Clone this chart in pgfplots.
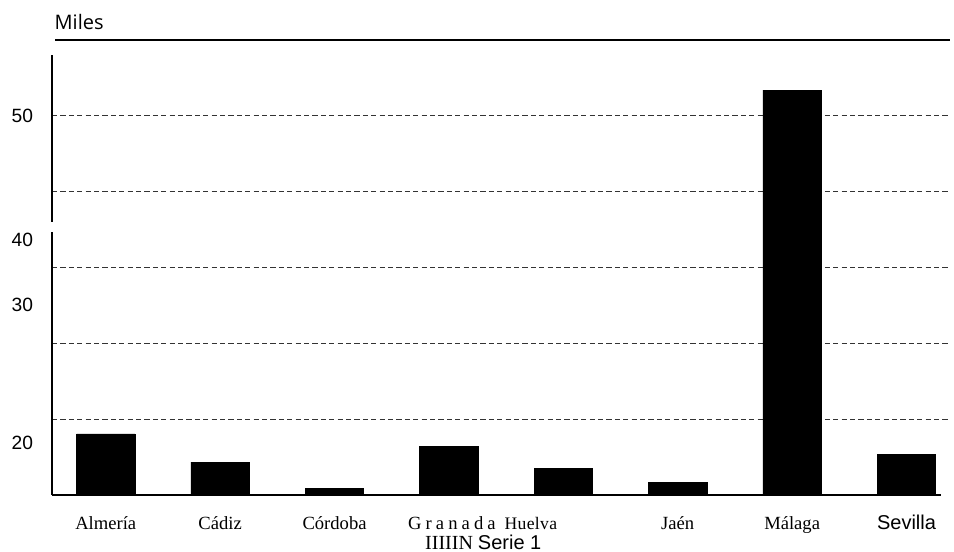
\documentclass[border=0pt]{standalone}
\usepackage{pgfplots}
\pgfplotsset{compat=1.18}
\usepackage{fontspec}
\setmainfont{Liberation Serif}
\newfontfamily\arial{Liberation Sans}
\newfontfamily\milesfont{Open Sans}
\begin{document}
\begin{tikzpicture}
\path[use as bounding box] (-26pt,-28.5pt) rectangle (451pt,247.5pt);
\begin{axis}[
  at={(0,0)}, anchor=south west,
  scale only axis, width=449pt, height=227.5pt,
  xmin=-0.47, xmax=7.38, ymin=0, ymax=60,
  clip=false,
  axis line style={draw=none},
  tick style={draw=none},
  xtick={0,...,7},
  xticklabels={Almería, Cádiz, Córdoba, {\hspace*{3pt}\addfontfeature{LetterSpace=22}Granada}, {\hspace*{-32.5pt}\fontsize{8.8}{9}\selectfont\addfontfeature{LetterSpace=2}Huelva}, Jaén, Málaga, {\arial\fontsize{10}{11}\selectfont Sevilla}},
  xticklabel style={font=\fontsize{9.3}{10}\selectfont, anchor=base, yshift=-17.2pt, inner sep=1pt},
  ytick={10,20,30,40,50},
  yticklabels={},
  ymajorgrids,
  major grid style={black!80, dash pattern=on 2.6pt off 1.6pt, line width=0.45pt},
  extra y ticks={6.86,25.06,33.6,50},
  extra y tick labels={20,30,40,50},
  extra y tick style={grid=none},
  yticklabel style={font=\arial\fontsize{9.6}{10}\selectfont, anchor=east, xshift=-6pt},
]
\addplot[ybar, bar width=0.51, fill=black, draw=black] coordinates {
 (0,8.05) (1,4.35) (2,0.92) (3,6.46) (4,3.56) (5,1.7) (6,53.4) (7,5.4)
};
\draw[black, line width=0.6pt] (axis cs:-0.47,0) -- (axis cs:7.3,0);
\draw[black, line width=0.6pt] (axis cs:-0.47,0) -- (axis cs:-0.47,34.7);
\draw[black, line width=0.6pt] (axis cs:-0.47,36) -- (axis cs:-0.47,58);
\draw[black, line width=0.6pt] (axis cs:-0.44,60) -- (axis cs:7.38,60);
\node[anchor=south west, inner sep=0, yshift=5pt, font=\milesfont\fontsize{10}{11}\selectfont] at (axis cs:-0.45,60) {Miles};
\node[anchor=base, inner sep=0, yshift=-27.3pt, font=\fontsize{10}{11}\selectfont] at (axis cs:3.3,0) {IIIIIN {\arial Serie 1}};
\end{axis}
\end{tikzpicture}
\end{document}
